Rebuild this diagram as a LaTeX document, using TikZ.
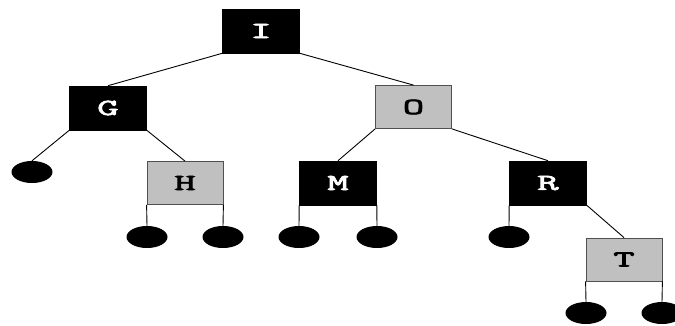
\documentclass[tikz,border=0pt]{standalone}
\usepackage{fontspec}
\newfontfamily\lblfont[FakeBold=2.5]{Latin Modern Mono}
\usetikzlibrary{shapes.geometric}
\definecolor{boxgray}{RGB}{192,192,192}
\definecolor{edgegray}{RGB}{80,80,80}
\newcommand{\lbl}[1]{\scalebox{1.8}[1.0]{\lblfont\bfseries\fontsize{23}{23}\selectfont #1}}
\tikzset{
  x=1pt, y=1pt,
  blackbox/.style={rectangle, fill=black, draw=black, line width=0.6pt, minimum width=77pt, minimum height=44pt, inner sep=0pt, text=white},
  graybox/.style={rectangle, fill=boxgray, draw=edgegray, line width=0.8pt, minimum width=76pt, minimum height=43pt, inner sep=0pt, text=black},
  leaf/.style={ellipse, fill=black, minimum width=41pt, minimum height=22pt, inner sep=0pt},
  edge/.style={draw=black, line width=0.9pt}
}
\begin{document}
\begin{tikzpicture}
\useasboundingbox (0,0) rectangle (675,-325);
\node[blackbox] (I) at (261,-31) {\lbl{I}};
\node[blackbox] (G) at (108,-108) {\lbl{G}};
\node[graybox] (O) at (413.5,-107) {\lbl{O}};
\node[graybox] (H) at (185,-183) {\lbl{H}};
\node[blackbox] (M) at (338,-183) {\lbl{M}};
\node[blackbox] (R) at (548,-183) {\lbl{R}};
\node[graybox] (T) at (624,-259.5) {\lbl{T}};
\node[leaf] (g1) at (32,-172) {};
\node[leaf] (h1) at (147,-237) {};
\node[leaf] (h2) at (223,-237) {};
\node[leaf] (m1) at (299,-237) {};
\node[leaf] (m2) at (377,-237) {};
\node[leaf] (r1) at (509,-237) {};
\node[leaf] (t1) at (586,-313) {};
\node[leaf] (t2) at (662,-313) {};
\draw[edge] (I.south west) -- (G.north);
\draw[edge] (I.south east) -- (O.north);
\draw[edge] (G.south west) -- (g1.north);
\draw[edge] (G.south east) -- (H.north);
\draw[edge] (H.south west) -- (h1.north);
\draw[edge] (H.south east) -- (h2.north);
\draw[edge] (O.south west) -- (M.north);
\draw[edge] (O.south east) -- (R.north);
\draw[edge] (M.south west) -- (m1.north);
\draw[edge] (M.south east) -- (m2.north);
\draw[edge] (R.south west) -- (r1.north);
\draw[edge] (R.south east) -- (T.north);
\draw[edge] (T.south west) -- (t1.north);
\draw[edge] (T.south east) -- (t2.north);
\end{tikzpicture}
\end{document}
